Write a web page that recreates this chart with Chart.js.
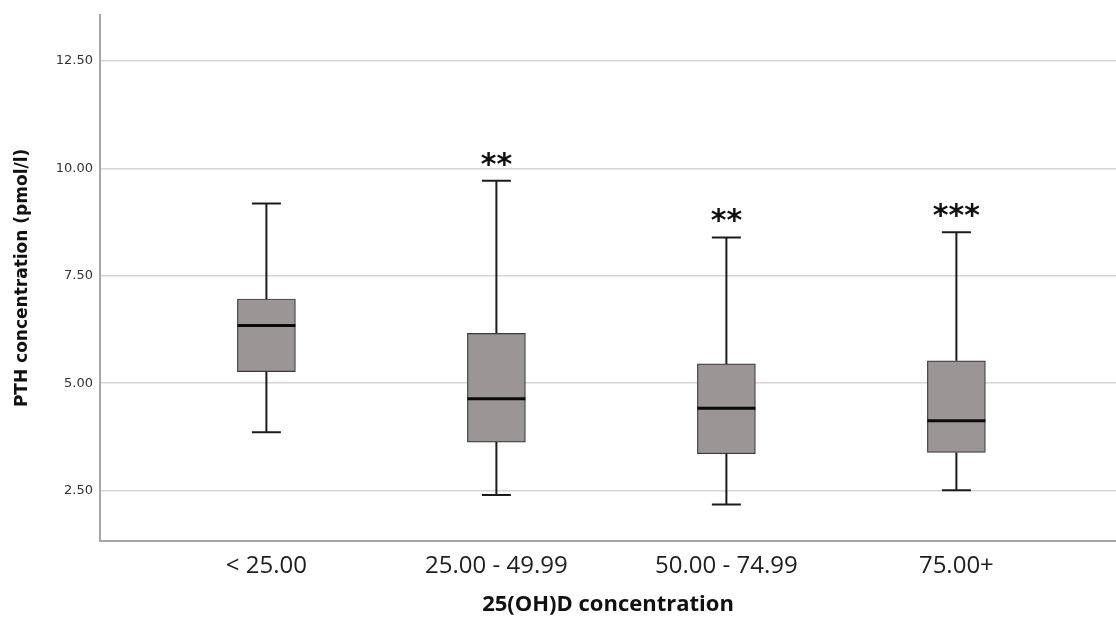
<!DOCTYPE html>
<html>
<head>
<meta charset="utf-8">
<title>PTH by 25(OH)D</title>
<script src="https://cdn.jsdelivr.net/npm/chart.js@4.4.1/dist/chart.umd.min.js"></script>
<style>
  html, body { margin: 0; padding: 0; background: #fff; }
  #wrap { width: 1116px; height: 619px; position: relative; }
</style>
</head>
<body>
<div id="wrap"><canvas id="c"></canvas></div>
<script>
  "use strict";

  // 25(OH)D groups and PTH box stats (pmol/l)
  const groups = ["< 25.00", "25.00 - 49.99", "50.00 - 74.99", "75.00+"];
  const whiskerLow = [3.86, 2.40, 2.18, 2.51];
  const q1 = [5.27, 3.63, 3.36, 3.39];
  const median = [6.34, 4.64, 4.42, 4.13];
  const q3 = [6.96, 6.16, 5.45, 5.52];
  const whiskerHigh = [9.18, 9.71, 8.39, 8.51];
  const stars = ["", "**", "**", "***"];
  const yTicks = [2.5, 5, 7.5, 10, 12.5];

  const AXIS_GREY = "#a6a6a6";
  const GRID_GREY = "#d6d6d6";

  // whiskers, caps, median line and significance stars on top of the boxes
  const boxExtras = {
    id: "boxExtras",
    afterDatasetsDraw(chart) {
      const ctx = chart.ctx;
      const sx = chart.scales.x;
      const sy = chart.scales.y;
      const meta = chart.getDatasetMeta(0);
      ctx.save();
      for (let i = 0; i < groups.length; i++) {
        const bar = meta.data[i];
        const cx = sx.getPixelForValue(i);
        const half = bar.width / 2;
        const capHalf = half / 2;
        const yHi = sy.getPixelForValue(whiskerHigh[i]);
        const yLo = sy.getPixelForValue(whiskerLow[i]);
        const yQ3 = sy.getPixelForValue(q3[i]);
        const yQ1 = sy.getPixelForValue(q1[i]);
        const yMed = sy.getPixelForValue(median[i]);

        ctx.strokeStyle = "#1c1c1c";
        ctx.lineWidth = 2;
        ctx.beginPath();
        ctx.moveTo(cx, yQ3);
        ctx.lineTo(cx, yHi);
        ctx.moveTo(cx - capHalf, yHi);
        ctx.lineTo(cx + capHalf, yHi);
        ctx.moveTo(cx, yQ1);
        ctx.lineTo(cx, yLo);
        ctx.moveTo(cx - capHalf, yLo);
        ctx.lineTo(cx + capHalf, yLo);
        ctx.stroke();

        ctx.strokeStyle = "#0a0a0a";
        ctx.lineWidth = 3;
        ctx.beginPath();
        ctx.moveTo(cx - half, yMed);
        ctx.lineTo(cx + half, yMed);
        ctx.stroke();

        if (stars[i]) {
          ctx.fillStyle = "#111";
          ctx.font = 'bold 30px "DejaVu Sans"';
          ctx.textAlign = "center";
          ctx.textBaseline = "alphabetic";
          ctx.fillText(stars[i], cx, yHi - 7);
        }
      }
      ctx.restore();
    },
  };

  const boxes = groups.map((g, i) => ({ x: i, y: [q1[i], q3[i]] }));

  new Chart(document.getElementById("c"), {
    type: "bar",
    data: {
      datasets: [
        {
          label: "PTH",
          data: boxes,
          backgroundColor: "#9b9595",
          borderColor: "#3a3a3a",
          borderWidth: 1.2,
          borderSkipped: false,
          barThickness: 58,
        },
      ],
    },
    plugins: [boxExtras],
    options: {
      responsive: true,
      maintainAspectRatio: false,
      animation: false,
      layout: { padding: { top: 12, right: 0, bottom: 0, left: 0 } },
      plugins: {
        legend: { display: false },
        tooltip: { enabled: false },
      },
      scales: {
        x: {
          type: "linear",
          min: -0.7235,
          max: 3.694,
          offset: false,
          grid: { display: false, offset: false },
          border: { display: true, color: AXIS_GREY, width: 2 },
          afterBuildTicks(scale) {
            scale.ticks = groups.map((g, i) => ({ value: i }));
          },
          afterFit(scale) {
            scale.height = 78;
          },
          ticks: {
            autoSkip: false,
            maxRotation: 0,
            padding: 3,
            color: "#1e1e1e",
            font: { family: "Open Sans", size: 24 },
            callback: (v) => groups[v],
          },
          title: {
            display: true,
            text: "25(OH)D concentration",
            color: "#111",
            font: { family: "Open Sans", size: 22, weight: "bold" },
            padding: { top: 0, bottom: 1 },
          },
        },
        y: {
          min: 1.33,
          max: 13.57,
          grid: { color: GRID_GREY, lineWidth: 1.5, drawTicks: false },
          border: { display: true, color: AXIS_GREY, width: 2 },
          afterBuildTicks(scale) {
            scale.ticks = yTicks.map((v) => ({ value: v }));
          },
          afterFit(scale) {
            scale.width = 100;
          },
          ticks: {
            padding: 7,
            color: "#333",
            font: { family: "DejaVu Sans", size: 13 },
            callback: (v) => v.toFixed(2),
          },
          title: {
            display: true,
            text: "PTH concentration (pmol/l)",
            color: "#111",
            font: { family: "DejaVu Sans", size: 17, weight: "bold" },
            padding: { top: 12, bottom: 0 },
          },
        },
      },
    },
  });
</script>
</body>
</html>
